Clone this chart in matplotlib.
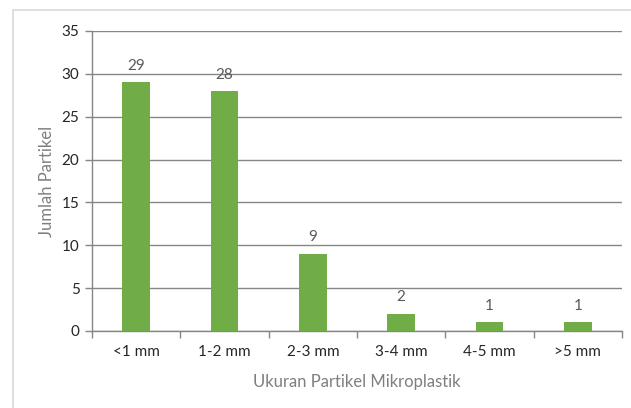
import numpy as np
import matplotlib
matplotlib.use("Agg")
import matplotlib.pyplot as plt
from matplotlib.patches import Rectangle

categories = ["<1 mm", "1-2 mm", "2-3 mm", "3-4 mm", "4-5 mm", ">5 mm"]
counts = [29, 28, 9, 2, 1, 1]

W, H = 631, 408
plt.rcParams["font.family"] = ["Lato", "DejaVu Sans"]

fig = plt.figure(figsize=(W / 100, H / 100), dpi=100)
ax = fig.add_axes([92 / W, 1 - 331 / H, (622 - 92) / W, (331 - 31) / H])

# outer chart border
fig.patches.append(Rectangle((13 / W, -0.1), 1.2, 1 - 10 / H + 0.1,
                             transform=fig.transFigure, fill=False,
                             edgecolor="#d9d9d9", linewidth=1.2))

x = np.arange(len(categories))
ax.bar(x, counts, width=0.31, color="#70ad47", zorder=3)
for xi, c in zip(x, counts):
    ax.text(xi, c + 1.1, str(c), ha="center", va="bottom",
            fontsize=11, color="#595959")

ax.set_xlim(-0.5, len(categories) - 0.5)
ax.set_ylim(0, 35)
ax.set_yticks(np.arange(0, 36, 5))
ax.yaxis.grid(True, color="#868686", linewidth=1.0, zorder=0)
ax.set_axisbelow(True)

ax.set_xticks(x)
ax.set_xticklabels(categories)
ax.set_xticks(np.arange(-0.5, len(categories)), minor=True)
ax.tick_params(axis="x", which="major", length=0, pad=10,
               labelsize=11, labelcolor="#262626")
ax.tick_params(axis="x", which="minor", length=5, color="#868686", width=1)
ax.tick_params(axis="y", length=5, color="#868686", width=1,
               labelsize=11, labelcolor="#262626", pad=4)

for s in ["top", "right"]:
    ax.spines[s].set_visible(False)
for s in ["left", "bottom"]:
    ax.spines[s].set_color("#868686")
    ax.spines[s].set_linewidth(1.0)

ax.set_xlabel("Ukuran Partikel Mikroplastik", fontsize=12,
              color="#7f7f7f", labelpad=11)
ax.set_ylabel("Jumlah Partikel", fontsize=12, color="#7f7f7f", labelpad=5)

fig.savefig("out.png", dpi=100)
